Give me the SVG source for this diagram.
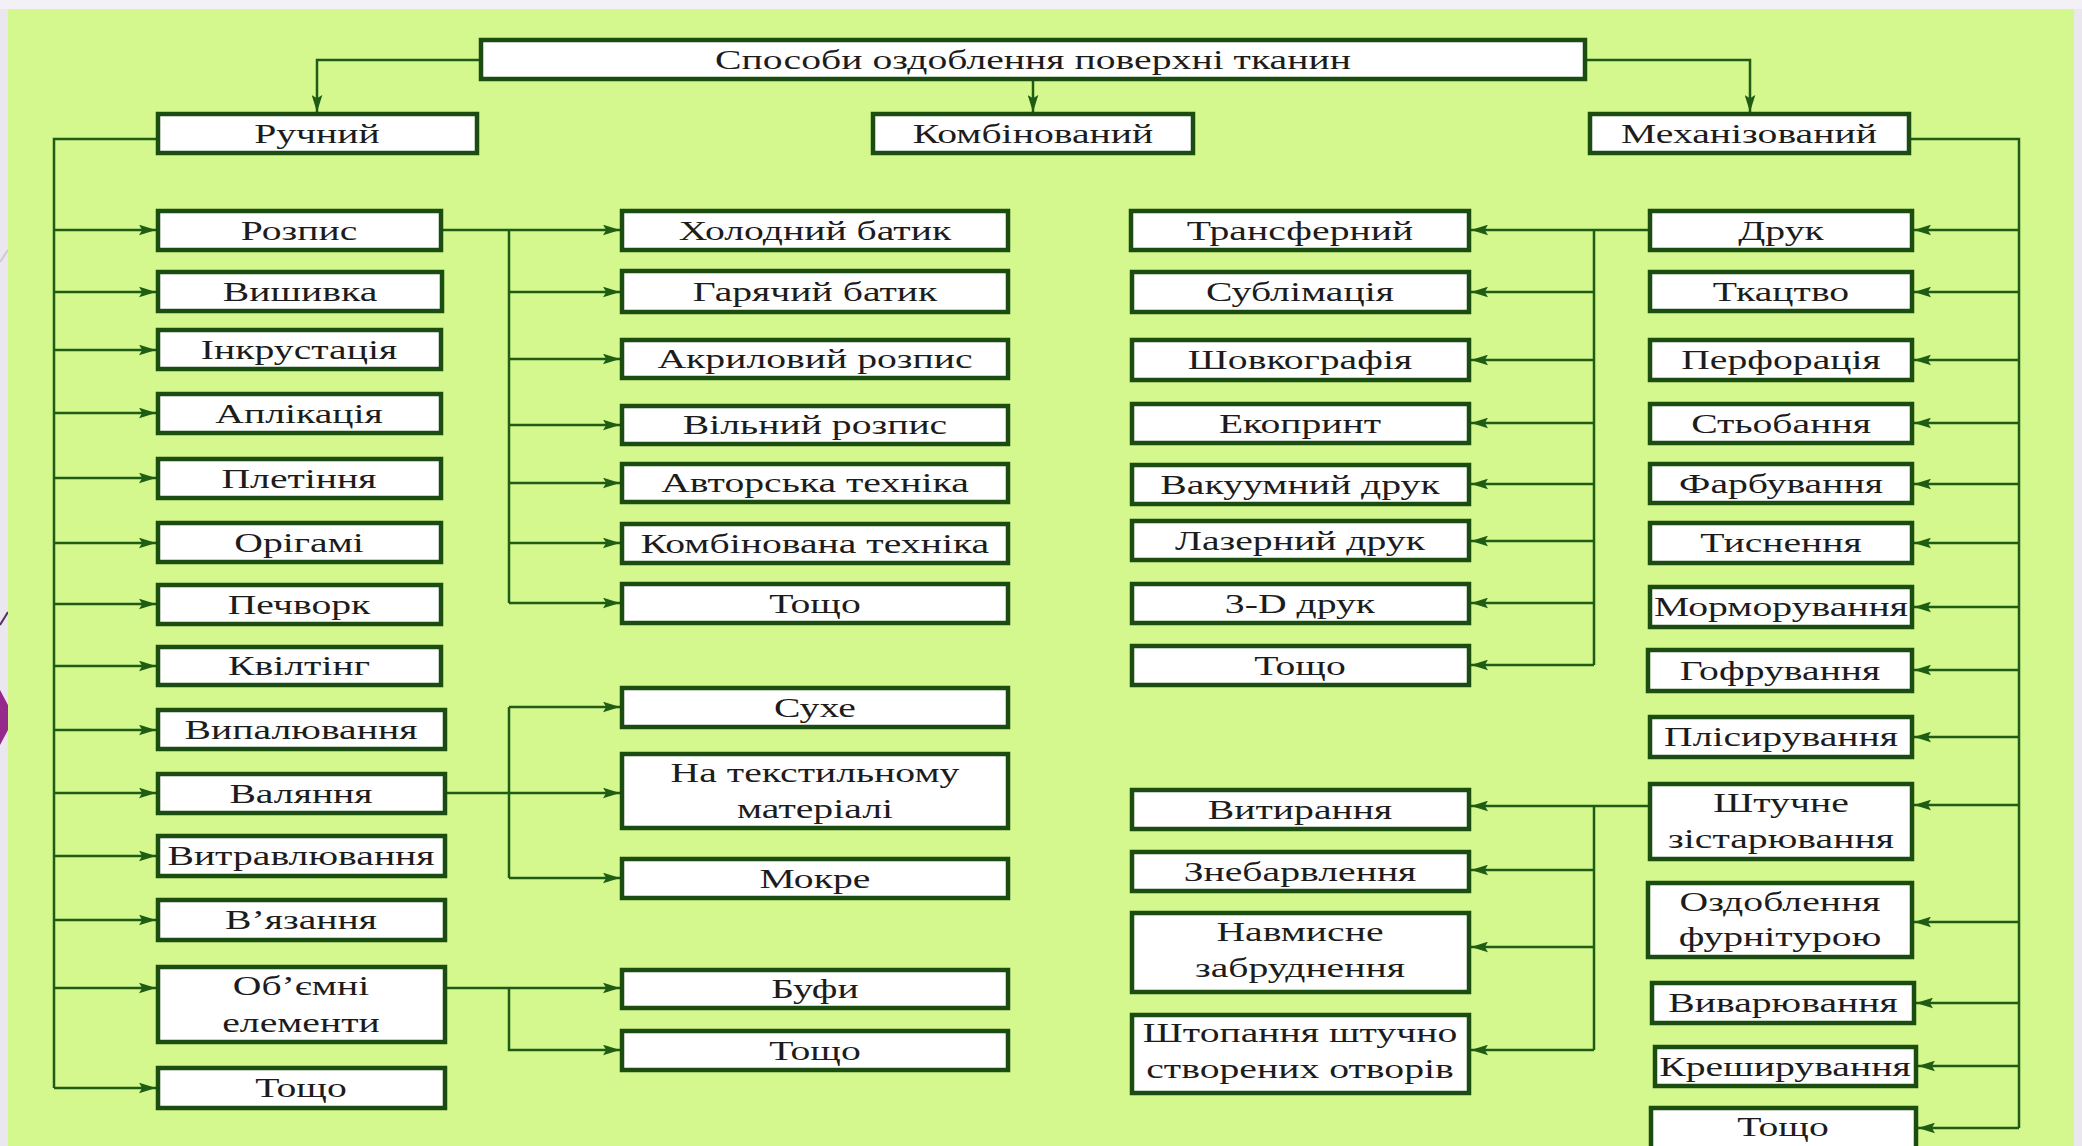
<svg xmlns="http://www.w3.org/2000/svg" width="2082" height="1146" viewBox="0 0 2082 1146">
<style>
.b{fill:#fff;stroke:#1b4c10;stroke-width:4.5}
.t{font-family:"Liberation Serif","Times New Roman",serif;font-size:27px;fill:#1c1c1c;text-anchor:middle}
.c{fill:none;stroke:#1f5c14;stroke-width:2.5}
.a{marker-end:url(#ah)}
</style>
<defs>
<marker id="ah" viewBox="0 0 16 10" refX="16" refY="5" markerWidth="17" markerHeight="11" markerUnits="userSpaceOnUse" orient="auto">
<path d="M0,0 L16,5 L0,10 L3,5 z" fill="#1f5c14"/>
</marker>
</defs>
<rect x="0" y="0" width="2082" height="1146" fill="#ebe7ef"/>
<rect x="0" y="0" width="2082" height="9" fill="#f3f1f5"/>
<line x1="0" y1="262" x2="8" y2="250" stroke="#cfc6d8" stroke-width="2"/>
<line x1="0" y1="625" x2="8" y2="612" stroke="#5a2d6a" stroke-width="2"/>
<polygon points="0,690 8,705 8,730 0,745" fill="#952a8c"/>
<rect x="8" y="9" width="2066" height="1137" fill="#d4f78e"/>

<g id="connectors">
<path class="c a" d="M481,60 H317 V112"/>
<path class="c a" d="M1033,79 V112"/>
<path class="c a" d="M1585,60 H1750 V112"/>
<path class="c" d="M158,139 H54 V1088"/>
<path class="c a" d="M54,230 H156"/>
<path class="c a" d="M54,292 H156"/>
<path class="c a" d="M54,350 H156"/>
<path class="c a" d="M54,413 H156"/>
<path class="c a" d="M54,478 H156"/>
<path class="c a" d="M54,543 H156"/>
<path class="c a" d="M54,604 H156"/>
<path class="c a" d="M54,666 H156"/>
<path class="c a" d="M54,730 H156"/>
<path class="c a" d="M54,793 H156"/>
<path class="c a" d="M54,856 H156"/>
<path class="c a" d="M54,920 H156"/>
<path class="c a" d="M54,988 H156"/>
<path class="c a" d="M54,1088 H156"/>
<path class="c a" d="M441,230 H620"/>
<path class="c" d="M509,230 V603"/>
<path class="c a" d="M509,292 H620"/>
<path class="c a" d="M509,359 H620"/>
<path class="c a" d="M509,425 H620"/>
<path class="c a" d="M509,483 H620"/>
<path class="c a" d="M509,543 H620"/>
<path class="c a" d="M509,603 H620"/>
<path class="c a" d="M445,793 H620"/>
<path class="c" d="M509,707 V878"/>
<path class="c a" d="M509,707 H620"/>
<path class="c a" d="M509,878 H620"/>
<path class="c a" d="M445,988 H620"/>
<path class="c a" d="M509,988 V1050 H620"/>
<path class="c a" d="M1650,230 H1471"/>
<path class="c" d="M1594,230 V665"/>
<path class="c a" d="M1594,292 H1471"/>
<path class="c a" d="M1594,360 H1471"/>
<path class="c a" d="M1594,423 H1471"/>
<path class="c a" d="M1594,484 H1471"/>
<path class="c a" d="M1594,541 H1471"/>
<path class="c a" d="M1594,603 H1471"/>
<path class="c a" d="M1594,665 H1471"/>
<path class="c a" d="M1650,806 H1471"/>
<path class="c" d="M1594,806 V1050"/>
<path class="c a" d="M1594,870 H1471"/>
<path class="c a" d="M1594,947 H1471"/>
<path class="c a" d="M1594,1050 H1471"/>
<path class="c" d="M1909,139 H2019 V1128"/>
<path class="c a" d="M2019,230 H1914"/>
<path class="c a" d="M2019,292 H1914"/>
<path class="c a" d="M2019,360 H1914"/>
<path class="c a" d="M2019,423 H1914"/>
<path class="c a" d="M2019,484 H1914"/>
<path class="c a" d="M2019,543 H1914"/>
<path class="c a" d="M2019,607 H1914"/>
<path class="c a" d="M2019,670 H1914"/>
<path class="c a" d="M2019,737 H1914"/>
<path class="c a" d="M2019,805 H1914"/>
<path class="c a" d="M2019,922 H1914"/>
<path class="c a" d="M2019,1003 H1916"/>
<path class="c a" d="M2019,1066 H1918"/>
<path class="c a" d="M2019,1128 H1918"/>
</g>

<g id="n-title"><rect class="b" x="481" y="40" width="1104" height="39"/><text class="t" transform="translate(1033,69) scale(1.47,1)">Способи оздоблення поверхні тканин</text></g>
<g id="n-ruchnyi"><rect class="b" x="158" y="114" width="319" height="39"/><text class="t" transform="translate(317,143) scale(1.47,1)">Ручний</text></g>
<g id="n-kombinovanyi"><rect class="b" x="873" y="114" width="320" height="39"/><text class="t" transform="translate(1033,143) scale(1.47,1)">Комбінований</text></g>
<g id="n-mekhanizovanyi"><rect class="b" x="1590" y="114" width="319" height="39"/><text class="t" transform="translate(1749,143) scale(1.47,1)">Механізований</text></g>

<g id="n-rozpys"><rect class="b" x="158" y="211" width="283" height="39"/><text class="t" transform="translate(299,240) scale(1.47,1)">Розпис</text></g>
<g id="n-vyshyvka"><rect class="b" x="158" y="272" width="284" height="39"/><text class="t" transform="translate(300,301) scale(1.47,1)">Вишивка</text></g>
<g id="n-inkrustatsiia"><rect class="b" x="158" y="330" width="283" height="39"/><text class="t" transform="translate(299,359) scale(1.47,1)">Інкрустація</text></g>
<g id="n-aplikatsiia"><rect class="b" x="158" y="394" width="283" height="39"/><text class="t" transform="translate(299,423) scale(1.47,1)">Аплікація</text></g>
<g id="n-pletinnia"><rect class="b" x="158" y="459" width="283" height="39"/><text class="t" transform="translate(299,488) scale(1.47,1)">Плетіння</text></g>
<g id="n-origami"><rect class="b" x="158" y="523" width="283" height="39"/><text class="t" transform="translate(299,552) scale(1.47,1)">Орігамі</text></g>
<g id="n-pechvork"><rect class="b" x="158" y="585" width="283" height="39"/><text class="t" transform="translate(299,614) scale(1.47,1)">Печворк</text></g>
<g id="n-kviltinh"><rect class="b" x="158" y="647" width="283" height="38"/><text class="t" transform="translate(299,675) scale(1.47,1)">Квілтінг</text></g>
<g id="n-vypaliuvannia"><rect class="b" x="158" y="710" width="287" height="39"/><text class="t" transform="translate(301,739) scale(1.47,1)">Випалювання</text></g>
<g id="n-valiannia"><rect class="b" x="158" y="774" width="287" height="39"/><text class="t" transform="translate(301,803) scale(1.47,1)">Валяння</text></g>
<g id="n-vytravliuvannia"><rect class="b" x="158" y="836" width="287" height="40"/><text class="t" transform="translate(301,865) scale(1.47,1)">Витравлювання</text></g>
<g id="n-viazannia"><rect class="b" x="158" y="900" width="287" height="40"/><text class="t" transform="translate(301,929) scale(1.47,1)">В’язання</text></g>
<g id="n-obiemni"><rect class="b" x="158" y="967" width="287" height="75"/><text class="t" transform="translate(301,995) scale(1.47,1)">Об’ємні</text><text class="t" transform="translate(301,1032) scale(1.47,1)">елементи</text></g>
<g id="n-toshcho-1"><rect class="b" x="158" y="1068" width="287" height="40"/><text class="t" transform="translate(301,1097) scale(1.47,1)">Тощо</text></g>

<g id="n-kholodnyi"><rect class="b" x="622" y="211" width="386" height="39"/><text class="t" transform="translate(815,240) scale(1.47,1)">Холодний батик</text></g>
<g id="n-hariachyi"><rect class="b" x="622" y="271" width="386" height="41"/><text class="t" transform="translate(815,301) scale(1.47,1)">Гарячий батик</text></g>
<g id="n-akrylovyi"><rect class="b" x="622" y="340" width="386" height="38"/><text class="t" transform="translate(815,368) scale(1.47,1)">Акриловий розпис</text></g>
<g id="n-vilnyi"><rect class="b" x="622" y="406" width="386" height="38"/><text class="t" transform="translate(815,434) scale(1.47,1)">Вільний розпис</text></g>
<g id="n-avtorska"><rect class="b" x="622" y="464" width="386" height="38"/><text class="t" transform="translate(815,492) scale(1.47,1)">Авторська техніка</text></g>
<g id="n-kombinovana"><rect class="b" x="622" y="524" width="386" height="39"/><text class="t" transform="translate(815,553) scale(1.47,1)">Комбінована техніка</text></g>
<g id="n-toshcho-2"><rect class="b" x="622" y="584" width="386" height="39"/><text class="t" transform="translate(815,613) scale(1.47,1)">Тощо</text></g>
<g id="n-sukhe"><rect class="b" x="622" y="688" width="386" height="39"/><text class="t" transform="translate(815,717) scale(1.47,1)">Сухе</text></g>
<g id="n-na-tekst"><rect class="b" x="622" y="754" width="386" height="74"/><text class="t" transform="translate(815,782) scale(1.47,1)">На текстильному</text><text class="t" transform="translate(815,818) scale(1.47,1)">матеріалі</text></g>
<g id="n-mokre"><rect class="b" x="622" y="859" width="386" height="39"/><text class="t" transform="translate(815,888) scale(1.47,1)">Мокре</text></g>
<g id="n-bufy"><rect class="b" x="622" y="970" width="386" height="38"/><text class="t" transform="translate(815,998) scale(1.47,1)">Буфи</text></g>
<g id="n-toshcho-3"><rect class="b" x="622" y="1031" width="386" height="39"/><text class="t" transform="translate(815,1060) scale(1.47,1)">Тощо</text></g>

<g id="n-transfernyi"><rect class="b" x="1131" y="211" width="338" height="39"/><text class="t" transform="translate(1300,240) scale(1.47,1)">Трансферний</text></g>
<g id="n-sublimatsiia"><rect class="b" x="1132" y="272" width="337" height="40"/><text class="t" transform="translate(1300,301) scale(1.47,1)">Сублімація</text></g>
<g id="n-shovkohrafiia"><rect class="b" x="1132" y="340" width="337" height="40"/><text class="t" transform="translate(1300,369) scale(1.47,1)">Шовкографія</text></g>
<g id="n-ekoprynt"><rect class="b" x="1132" y="404" width="337" height="39"/><text class="t" transform="translate(1300,433) scale(1.47,1)">Екопринт</text></g>
<g id="n-vakuumnyi"><rect class="b" x="1132" y="465" width="337" height="39"/><text class="t" transform="translate(1300,494) scale(1.47,1)">Вакуумний друк</text></g>
<g id="n-lazernyi"><rect class="b" x="1132" y="521" width="337" height="39"/><text class="t" transform="translate(1300,550) scale(1.47,1)">Лазерний друк</text></g>
<g id="n-3d"><rect class="b" x="1132" y="584" width="337" height="39"/><text class="t" transform="translate(1300,613) scale(1.47,1)">3-D друк</text></g>
<g id="n-toshcho-4"><rect class="b" x="1132" y="646" width="337" height="39"/><text class="t" transform="translate(1300,675) scale(1.47,1)">Тощо</text></g>
<g id="n-vytyrannia"><rect class="b" x="1132" y="790" width="337" height="39"/><text class="t" transform="translate(1300,819) scale(1.47,1)">Витирання</text></g>
<g id="n-znebarvlennia"><rect class="b" x="1132" y="852" width="337" height="39"/><text class="t" transform="translate(1300,881) scale(1.47,1)">Знебарвлення</text></g>
<g id="n-navmysne"><rect class="b" x="1132" y="913" width="337" height="79"/><text class="t" transform="translate(1300,941) scale(1.47,1)">Навмисне</text><text class="t" transform="translate(1300,977) scale(1.47,1)">забруднення</text></g>
<g id="n-shtopannia"><rect class="b" x="1132" y="1015" width="337" height="78"/><text class="t" transform="translate(1300,1042) scale(1.47,1)">Штопання штучно</text><text class="t" transform="translate(1300,1078) scale(1.47,1)">створених отворів</text></g>

<g id="n-druk"><rect class="b" x="1650" y="211" width="262" height="39"/><text class="t" transform="translate(1781,240) scale(1.47,1)">Друк</text></g>
<g id="n-tkatstvo"><rect class="b" x="1650" y="272" width="262" height="39"/><text class="t" transform="translate(1781,301) scale(1.47,1)">Ткацтво</text></g>
<g id="n-perforatsiia"><rect class="b" x="1650" y="340" width="262" height="40"/><text class="t" transform="translate(1781,369) scale(1.47,1)">Перфорація</text></g>
<g id="n-stobannia"><rect class="b" x="1650" y="404" width="262" height="39"/><text class="t" transform="translate(1781,433) scale(1.47,1)">Стьобання</text></g>
<g id="n-farbuvannia"><rect class="b" x="1650" y="464" width="262" height="39"/><text class="t" transform="translate(1781,493) scale(1.47,1)">Фарбування</text></g>
<g id="n-tysnennia"><rect class="b" x="1650" y="523" width="262" height="40"/><text class="t" transform="translate(1781,552) scale(1.47,1)">Тиснення</text></g>
<g id="n-mormoruvannia"><rect class="b" x="1650" y="587" width="262" height="40"/><text class="t" transform="translate(1781,616) scale(1.47,1)">Морморування</text></g>
<g id="n-hofruvannia"><rect class="b" x="1648" y="650" width="264" height="41"/><text class="t" transform="translate(1780,680) scale(1.47,1)">Гофрування</text></g>
<g id="n-plisyruvannia"><rect class="b" x="1650" y="717" width="262" height="40"/><text class="t" transform="translate(1781,746) scale(1.47,1)">Плісирування</text></g>
<g id="n-shtuchne"><rect class="b" x="1650" y="784" width="262" height="75"/><text class="t" transform="translate(1781,812) scale(1.47,1)">Штучне</text><text class="t" transform="translate(1781,848) scale(1.47,1)">зістарювання</text></g>
<g id="n-ozdoblennia"><rect class="b" x="1648" y="883" width="264" height="74"/><text class="t" transform="translate(1780,911) scale(1.47,1)">Оздоблення</text><text class="t" transform="translate(1780,946) scale(1.47,1)">фурнітурою</text></g>
<g id="n-vyvariuvannia"><rect class="b" x="1652" y="983" width="262" height="40"/><text class="t" transform="translate(1783,1012) scale(1.47,1)">Виварювання</text></g>
<g id="n-kreshyruvannia"><rect class="b" x="1655" y="1047" width="261" height="39"/><text class="t" transform="translate(1785,1076) scale(1.47,1)">Креширування</text></g>
<g id="n-toshcho-5"><rect class="b" x="1651" y="1108" width="265" height="48"/><text class="t" transform="translate(1783,1136) scale(1.47,1)">Тощо</text></g>
</svg>
